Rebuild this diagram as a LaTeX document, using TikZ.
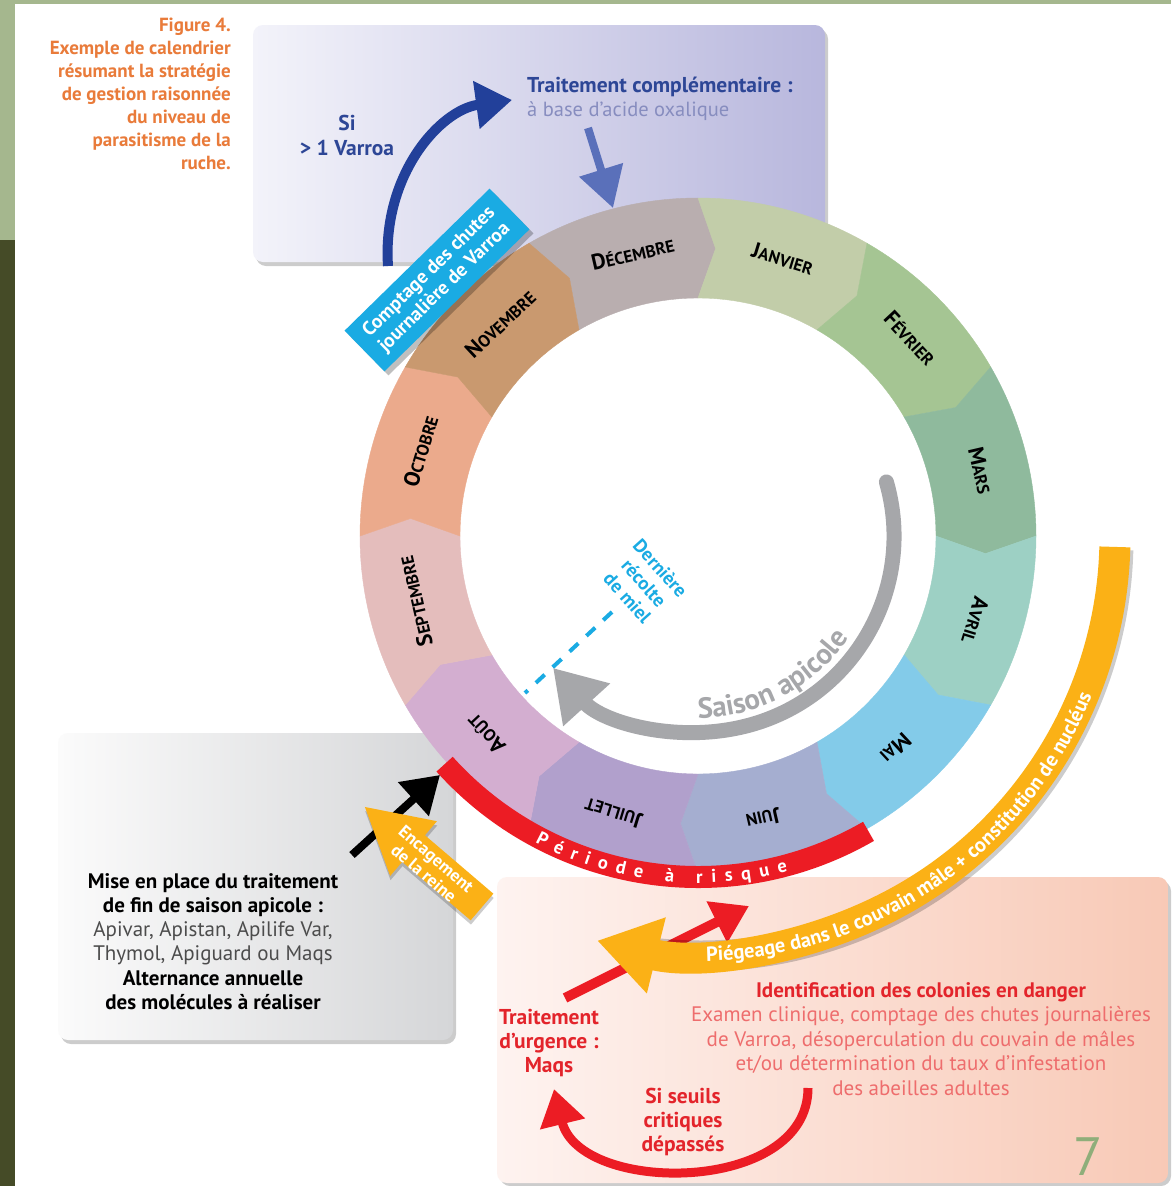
\documentclass[tikz,border=0pt]{standalone}
\usepackage{fontspec}
\setmainfont{PT Sans}
\usetikzlibrary{arrows.meta,decorations.text}
\definecolor{olivD}{HTML}{454B27}
\definecolor{olivL}{HTML}{A5B78E}
\definecolor{capO}{HTML}{E97B3A}
\definecolor{blueD}{HTML}{22409A}
\definecolor{blueT}{HTML}{2D4696}
\definecolor{blueL}{HTML}{878DBF}
\definecolor{blueA}{HTML}{5A70BA}
\definecolor{purL}{HTML}{F3F3FA}
\definecolor{purR}{HTML}{B8B7DD}
\definecolor{grL}{HTML}{FBFBFB}
\definecolor{grR}{HTML}{D5D6D8}
\definecolor{pkL}{HTML}{FEF3F0}
\definecolor{pkR}{HTML}{F8C9B6}
\definecolor{cyanB}{HTML}{1AABE3}
\definecolor{redB}{HTML}{EC1C24}
\definecolor{redT}{HTML}{E3242B}
\definecolor{redL}{HTML}{EE6D6D}
\definecolor{orgB}{HTML}{FBB116}
\definecolor{grayA}{HTML}{A6A7AA}
\definecolor{sage}{HTML}{8FAE7A}
\definecolor{decC}{HTML}{B9AEAF}
\definecolor{janC}{HTML}{C2CDA9}
\definecolor{fevC}{HTML}{A5C593}
\definecolor{marC}{HTML}{8FBA9D}
\definecolor{avrC}{HTML}{9DD0C4}
\definecolor{maiC}{HTML}{83CBE9}
\definecolor{juinC}{HTML}{A5AED0}
\definecolor{juilC}{HTML}{B1A0CC}
\definecolor{aouC}{HTML}{D3AED0}
\definecolor{sepC}{HTML}{E4BDBC}
\definecolor{octC}{HTML}{EBAA8C}
\definecolor{novC}{HTML}{C9996F}
\newcommand\mon[2]{{\fontsize{22}{22}\selectfont #1}{\fontsize{17}{17}\selectfont #2}}
\begin{document}
\begin{tikzpicture}[x=1pt,y=1pt,
  shadowbox/.style={fill=black,opacity=0.2},
  monlbl/.style={font=\bfseries,inner sep=0pt,text=black},
  boxtext/.style={align=center,inner sep=0pt}]
\useasboundingbox (0,0) rectangle (1171,-1186);
\fill[white] (0,0) rectangle (1171,-1186);
% page strips
\fill[olivL] (0,0) rectangle (1171,-4);
\fill[olivL] (0,0) rectangle (15,-240);
\fill[olivD] (0,-240) rectangle (15,-1186);

% caption
\node[anchor=north east,align=right,inner sep=0pt,text=capO,font=\bfseries\fontsize{19}{23}\selectfont] (cap) at (231,-18)
 {Figure 4.\\Exemple de calendrier\\résumant la stratégie\\de gestion raisonnée\\du niveau de\\parasitisme de la\\ruche.};

% boxes
\fill[shadowbox,rounded corners=10pt] (256,-29) rectangle (828,-266);
\shade[rounded corners=10pt,left color=purL,right color=purR] (253,-25) rectangle (825,-262);
\fill[shadowbox,rounded corners=10pt] (61,-737) rectangle (456,-1044);
\shade[rounded corners=10pt,left color=grL,right color=grR] (58,-733) rectangle (453,-1040);
\fill[shadowbox,rounded corners=10pt] (500,-881) rectangle (1171,-1186);
\shade[rounded corners=10pt,left color=pkL,right color=pkR] (497,-877) rectangle (1168,-1183);

% purple box texts
\node[boxtext,text=blueT,font=\bfseries\fontsize{21.5}{25}\selectfont] (si) at (347,-135.5) {Si\\> 1 Varroa};
\node[anchor=west,inner sep=0pt,text=blueT,font=\bfseries\fontsize{21.5}{20}\selectfont] (trc) at (527,-87) {Traitement complémentaire :};
\node[anchor=west,inner sep=0pt,text=blueL,font=\fontsize{20.5}{20}\selectfont] (oxa) at (527,-111) {à base d’acide oxalique};
\coordinate (blueS) at (388,-266);
\coordinate (blueE) at (512,-100);
\draw[blueD,line width=10pt,-{Triangle[length=36pt,width=46pt]}] (blueS) .. controls (382,-175) and (440,-110) .. (blueE);

% wheel
\begin{scope}[shift={(698,-536)}]
\foreach \a/\col/\fl/\rl in {120/decC/D/ÉCEMBRE,90/janC/J/ANVIER,60/fevC/F/ÉVRIER,30/marC/M/ARS,0/avrC/A/VRIL,-30/maiC/M/AI,-60/juinC/J/UIN,-90/juilC/J/UILLET,-120/aouC/A/OÛT,-150/sepC/S/EPTEMBRE,180/octC/O/CTOBRE,150/novC/N/OVEMBRE}{
  \pgfmathsetmacro\b{\a-30}
  \pgfmathsetmacro\bc{\a-33.5}
  \pgfmathsetmacro\ac{\a-3.5}
  \pgfmathsetmacro\c{\a-17}
  \pgfmathsetmacro\r{\a-107}
  \fill[\col,draw=\col,line width=0.4pt] (\a:338) arc[start angle=\a,end angle=\b,radius=338] -- (\bc:288) -- (\b:238)
     arc[start angle=\b,end angle=\a,radius=238] -- (\ac:288) -- cycle;
  \node[monlbl,rotate=\r] at (\c:290) {\mon{\fl}{\rl}};
}
% red band
\draw[redB,line width=22pt] (222:341) arc[start angle=222,end angle=300,radius=341];
\path[decorate,decoration={text along path,text align={fit to path},text color=white,
  text={|\bfseries\fontsize{18.5}{18.5}\selectfont|Période à risque}}]
  (242:347) arc[start angle=242,end angle=285,radius=347];
% dashed last harvest line
\coordinate (dashA) at (-86,-76);
\coordinate (dashB) at (-173,-157);
\draw[cyanB,line width=4pt,dash pattern=on 12pt off 11pt] (dashA) -- (dashB);
% gray season arrow
\draw[grayA,line width=15pt,line cap=round,-{Triangle[length=50pt,width=60pt]}]
  (16:196) arc[start angle=16,end angle=-137.7,radius=196];
\path[decorate,decoration={text along path,text align=center,text color=grayA,
  text={|\bfseries\fontsize{29}{29}\selectfont|Saison apicole}}]
  (-90:182) arc[start angle=-90,end angle=-34,radius=182];
\node[rotate=-48,align=center,inner sep=0pt,text=cyanB,font=\bfseries\fontsize{19}{22}\selectfont] (recolte) at (-54,-47)
  {Dernière\\récolte\\de miel};
\end{scope}

% blue down arrow
\coordinate (bdA) at (588,-128);
\coordinate (bdB) at (613,-208);
\draw[blueA,line width=8pt,-{Triangle[length=40pt,width=44pt]}] (bdA) -- (bdB);

% comptage box
\fill[black,opacity=0.25,rotate around={44.4:(441,-284)}] (339.5,-312.5) rectangle (542.5,-255.5);
\node[fill=cyanB,rotate=44.4,minimum width=203pt,minimum height=57pt,inner sep=0pt,text=white,align=center,
  font=\bfseries\fontsize{19.5}{22}\selectfont] (compt) at (437,-280) {Comptage des chutes\\journalière de Varroa};

% red arrows in pink box
\coordinate (rA) at (565,-998);
\coordinate (rB) at (749,-906);
\draw[redB,line width=10pt,-{Triangle[length=36pt,width=44pt]}] (rA) -- (rB);
\coordinate (rC) at (808,-1088);
\coordinate (rD) at (554,-1089);
\draw[redB,line width=9pt,-{Triangle[length=36pt,width=44pt]}] (rC) .. controls (808,-1195) and (580,-1195) .. (rD);

% orange arc arrow
\begin{scope}[shift={(698,-536)}]
\draw[black,opacity=0.2,line width=31pt,shift={(3,-3)}] (-1.5:417) arc[start angle=-1.5,end angle=-96,radius=417];
\draw[orgB,line width=31pt,-{Triangle[length=61pt,width=74pt]}] (-1.5:417) arc[start angle=-1.5,end angle=-104,radius=417];
\path[decorate,decoration={text along path,text align=center,text color=white,
  text={|\bfseries\fontsize{20.5}{20.5}\selectfont|Piégeage dans le couvain mâle + constitution de nucléus}}]
  (262:425) arc[start angle=262,end angle=347,radius=425];
\end{scope}

% black arrow and queen caging arrow
\coordinate (kA) at (352,-855);
\coordinate (kB) at (440,-775);
\draw[black,line width=8pt,-{Triangle[length=36pt,width=44pt]}] (kA) -- (kB);
\begin{scope}[shift={(482,-907)},rotate=139.5]
\fill[black,opacity=0.2,shift={(-3,3)}] (0,17.5) -- (90,17.5) -- (90,36) -- (154,0) -- (90,-36) -- (90,-17.5) -- (0,-17.5) -- cycle;
\fill[orgB] (0,17.5) -- (90,17.5) -- (90,36) -- (154,0) -- (90,-36) -- (90,-17.5) -- (0,-17.5) -- cycle;
\end{scope}
\node[rotate=-40.5,align=center,inner sep=0pt,text=white,font=\bfseries\fontsize{17.5}{19}\selectfont] (encag) at (430,-866) {Encagement\\de la reine};

% gray box text
\node[boxtext,font=\fontsize{21}{24.2}\selectfont] (gtxt) at (213,-941.5)
 {\textbf{Mise en place du traitement}\\\textbf{de fin de saison apicole :}\\\textcolor{black!70}{Apivar, Apistan, Apilife Var,}\\\textcolor{black!70}{Thymol, Apiguard ou Maqs}\\\textbf{Alternance annuelle}\\\textbf{des molécules à réaliser}};

% pink box texts
\node[boxtext,text=redL,font=\fontsize{21}{24.5}\selectfont] (ptxt) at (921,-1039)
 {\textcolor{redT}{\bfseries Identification des colonies en danger}\\Examen clinique, comptage des chutes journalières\\de Varroa, désoperculation du couvain de mâles\\et/ou détermination du taux d’infestation\\des abeilles adultes};
\node[boxtext,text=redT,font=\bfseries\fontsize{21.5}{24}\selectfont] (urg) at (549,-1043) {Traitement\\d’urgence :\\Maqs};
\node[boxtext,text=redT,font=\bfseries\fontsize{21.5}{24}\selectfont] (seuil) at (683,-1122) {Si seuils\\critiques\\dépassés};
\node[anchor=base,inner sep=0pt,text=sage,font=\fontsize{54}{54}\selectfont] (pnum) at (1088,-1175) {7};
\end{tikzpicture}
\end{document}
